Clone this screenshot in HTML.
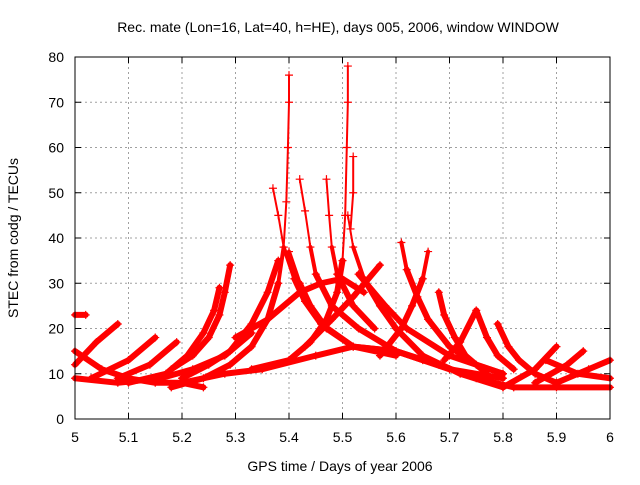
<!DOCTYPE html>
<html><head><meta charset="utf-8"><style>
body{margin:0;background:#fff;font-family:"Liberation Sans",sans-serif}
svg text{font-family:"Liberation Sans",sans-serif;font-size:14px;fill:#000}
</style></head><body>
<svg id="chart" width="640" height="480">
<text x="338" y="32" text-anchor="middle">Rec. mate (Lon=16, Lat=40, h=HE), days 005, 2006, window WINDOW</text>
<text x="340" y="471" text-anchor="middle">GPS time / Days of year 2006</text>
<text transform="translate(18,238) rotate(-90)" text-anchor="middle">STEC from codg / TECUs</text>
<g id="grid"></g>
<g id="marks"></g>
<rect x="75" y="57" width="535" height="362" fill="none" stroke="#000" stroke-width="1"/>
<g id="ticks"></g>
</svg>
<script>
const xTicks=[5,5.1,5.2,5.3,5.4,5.5,5.6,5.7,5.8,5.9,6];
const xTickLabels=["5","5.1","5.2","5.3","5.4","5.5","5.6","5.7","5.8","5.9","6"];
const yTicks=[0,10,20,30,40,50,60,70,80];
const arcA=[[5.18,7],[5.24,9],[5.29,12],[5.33,16],[5.36,22],[5.38,30],[5.39,38],[5.395,48],[5.398,60],[5.40,70],[5.40,76]];
const arcB=[[5.40,37],[5.42,30],[5.44,25],[5.47,20],[5.52,16],[5.60,15],[5.65,13]];
const arcC=[[5.33,11],[5.40,13],[5.44,17],[5.47,22],[5.49,28],[5.50,35],[5.505,45],[5.508,60],[5.51,70],[5.51,78]];
const arcD=[[5.51,45],[5.52,38],[5.54,31],[5.57,25],[5.60,20],[5.65,14],[5.72,10],[5.80,7]];
const arcE=[[5.52,58],[5.52,50],[5.515,42]];
const arcF=[[5.37,51],[5.38,45],[5.39,38],[5.41,31],[5.43,26],[5.46,21],[5.52,16],[5.60,14]];
const arcG=[[5.42,53],[5.43,46],[5.44,38],[5.45,32],[5.48,25],[5.53,20],[5.60,15],[5.70,11],[5.80,9]];
const arcH=[[5.47,53],[5.475,45],[5.48,38],[5.49,32],[5.52,25],[5.56,20]];
const arcI=[[5.43,16],[5.48,22],[5.52,27],[5.57,34]];
const arcJ=[[5.38,35],[5.36,28],[5.33,21],[5.29,15],[5.25,12],[5.20,9]];
const arcK=[[5.29,34],[5.28,28],[5.27,23],[5.25,18],[5.22,14],[5.18,11]];
const arcL=[[5.27,29],[5.26,24],[5.24,19],[5.21,14],[5.17,10],[5.10,8]];
const arcM=[[5.20,8],[5.28,10],[5.35,11],[5.45,14],[5.52,16],[5.60,15],[5.68,12],[5.75,9],[5.82,7],[5.90,7],[6.00,7]];
const arcN=[[5.00,15],[5.05,11],[5.10,9],[5.15,8],[5.20,8],[5.24,7]];
const arcO=[[5.00,23],[5.02,23]];
const arcP=[[5.00,12],[5.04,17],[5.08,21]];
const arcQ=[[5.03,9],[5.10,13],[5.15,18]];
const arcR=[[5.08,9],[5.14,12],[5.19,17]];
const arcS=[[5.61,39],[5.62,33],[5.64,27],[5.66,22],[5.70,16],[5.75,12],[5.80,10]];
const arcT=[[5.66,37],[5.65,31],[5.63,25],[5.61,20],[5.57,14]];
const arcV=[[5.68,28],[5.69,23],[5.71,18],[5.73,14],[5.77,10]];
const arcW=[[5.69,13],[5.72,17],[5.75,24],[5.77,18],[5.79,14],[5.82,11]];
const arcX=[[5.79,21],[5.81,16],[5.83,13],[5.86,10],[5.90,8]];
const arcY1=[[5.80,7],[5.86,11],[5.90,16]];
const arcY2=[[5.86,8],[5.92,12],[5.95,15]];
const arcY3=[[5.90,8],[5.96,11],[6.00,13]];
const arcY4=[[5.88,13],[5.94,10],[6.00,9]];
const arcZ=[[5.53,32],[5.58,25],[5.62,20],[5.70,14],[5.80,10]];
const arcHump=[[5.30,18],[5.36,22],[5.42,28],[5.46,30],[5.50,31],[5.54,28]];
const arcBase=[[5.00,9],[5.08,8],[5.16,9],[5.22,11],[5.28,14],[5.33,19]];
const arcs=[arcA,arcB,arcC,arcD,arcE,arcF,arcG,arcH,arcI,arcJ,arcK,arcL,arcM,arcN,arcO,arcP,arcQ,arcR,arcS,arcT,arcV,arcW,arcX,arcY1,arcY2,arcY3,arcY4,arcZ,arcHump,arcBase];
const X=t=>75+(t-5)*535, Y=v=>419-v*4.525;
const NS="http://www.w3.org/2000/svg";
const grid=document.getElementById('grid'),ticks=document.getElementById('ticks'),marks=document.getElementById('marks');
function mk(tag,attrs,parent){const e=document.createElementNS(NS,tag);for(const k in attrs)e.setAttribute(k,attrs[k]);parent.appendChild(e);return e;}
xTicks.forEach((t,i)=>{
 const g=mk('line',{x1:X(t),x2:X(t),y1:57,y2:419,stroke:'#a0a0a0','stroke-dasharray':'2,3'},grid);
 
 
 mk('line',{x1:X(t),x2:X(t),y1:419,y2:413,stroke:'#000'},ticks);
 mk('line',{x1:X(t),x2:X(t),y1:57,y2:63,stroke:'#000'},ticks);
 const tx=mk('text',{x:X(t),y:442,'text-anchor':'middle'},ticks);tx.textContent=xTickLabels[i];
 
 
});
yTicks.forEach(v=>{
 const g=mk('line',{x1:75,x2:610,y1:Y(v),y2:Y(v),stroke:'#a0a0a0','stroke-dasharray':'2,3'},grid);
 
 
 mk('line',{x1:75,x2:81,y1:Y(v),y2:Y(v),stroke:'#000'},ticks);
 mk('line',{x1:604,x2:610,y1:Y(v),y2:Y(v),stroke:'#000'},ticks);
 const tx=mk('text',{x:64,y:Y(v)+5,'text-anchor':'end'},ticks);tx.textContent=String(v);
 
 
});
arcs.forEach(a=>{
 for(let i=0;i<a.length-1;i++){
  const v=Math.max(a[i][1],a[i+1][1]);
  const w=v>44?2:(v>36?4:6);
  const s=mk('line',{x1:X(a[i][0]),y1:Y(a[i][1]),x2:X(a[i+1][0]),y2:Y(a[i+1][1]),stroke:'#ff0000','stroke-width':w,'stroke-linecap':'round'},marks);
  
  
 }
 a.forEach(p=>{
  const x=X(p[0]),y=Y(p[1]);
  const m=mk('path',{d:`M${x-4},${y}h8M${x},${y-4}v8`,stroke:'#ff0000','stroke-width':1.2},marks);
  
  
 });
});
</script>
</body></html>
